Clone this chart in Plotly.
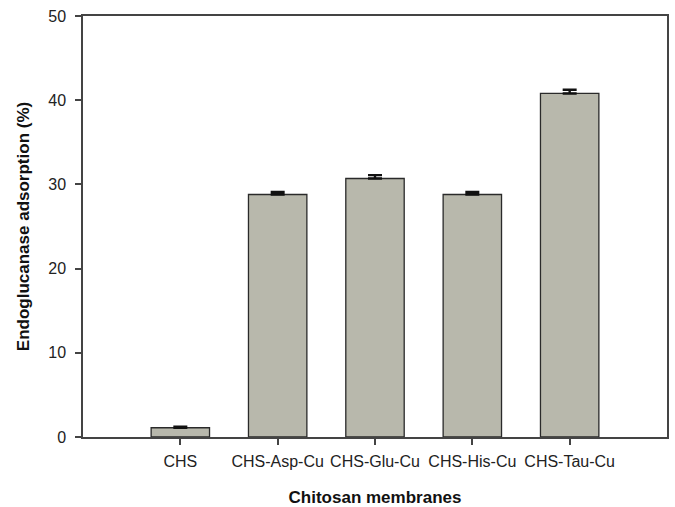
import plotly.graph_objects as go

# Endoglucanase adsorption on chitosan membranes
membranes = ["CHS", "CHS-Asp-Cu", "CHS-Glu-Cu", "CHS-His-Cu", "CHS-Tau-Cu"]
adsorption = [1.1, 28.8, 30.7, 28.8, 40.8]
adsorption_err = [0.12, 0.3, 0.4, 0.3, 0.45]

y_ticks = [0, 10, 20, 30, 40, 50]

font_family = "Liberation Sans, Arial, sans-serif"
axis_color = "#444444"

fig = go.Figure()
fig.add_trace(go.Bar(
    x=list(range(len(membranes))),
    y=adsorption,
    width=0.6,
    marker=dict(color="#b8b8ac", line=dict(color="#2a2a2a", width=1.3)),
    error_y=dict(type="data", array=adsorption_err, symmetric=False,
                 arrayminus=[0] * len(membranes),
                 color="#111111", thickness=2.4, width=7),
))

fig.update_layout(
    width=675, height=507,
    margin=dict(l=83, r=8, t=16, b=70),
    paper_bgcolor="white", plot_bgcolor="white",
    showlegend=False,
    font=dict(family=font_family, size=16, color="#222222"),
    xaxis=dict(
        range=[-1, 5],
        automargin=False,
        tickmode="array",
        tickvals=list(range(len(membranes))),
        ticktext=membranes,
        ticks="outside", ticklen=6, tickwidth=1.5, tickcolor=axis_color,
        ticklabelstandoff=3,
        showline=True, linecolor=axis_color, linewidth=1.5, mirror=True,
        showgrid=False, zeroline=False,
        tickfont=dict(size=16, color="#222222"),
        title=dict(text="<b>Chitosan membranes</b>", standoff=25,
                   font=dict(size=17, color="#111111")),
    ),
    yaxis=dict(
        range=[0, 50],
        automargin=False,
        tickmode="array",
        tickvals=y_ticks,
        ticks="outside", ticklen=6, tickwidth=1.5, tickcolor=axis_color,
        ticklabelstandoff=6,
        showline=True, linecolor=axis_color, linewidth=1.5, mirror=True,
        showgrid=False, zeroline=False,
        tickfont=dict(size=16, color="#222222"),
        title=dict(text="<b>Endoglucanase adsorption (%)</b>", standoff=14,
                   font=dict(size=17, color="#111111")),
    ),
)

fig.write_html("out.html")
